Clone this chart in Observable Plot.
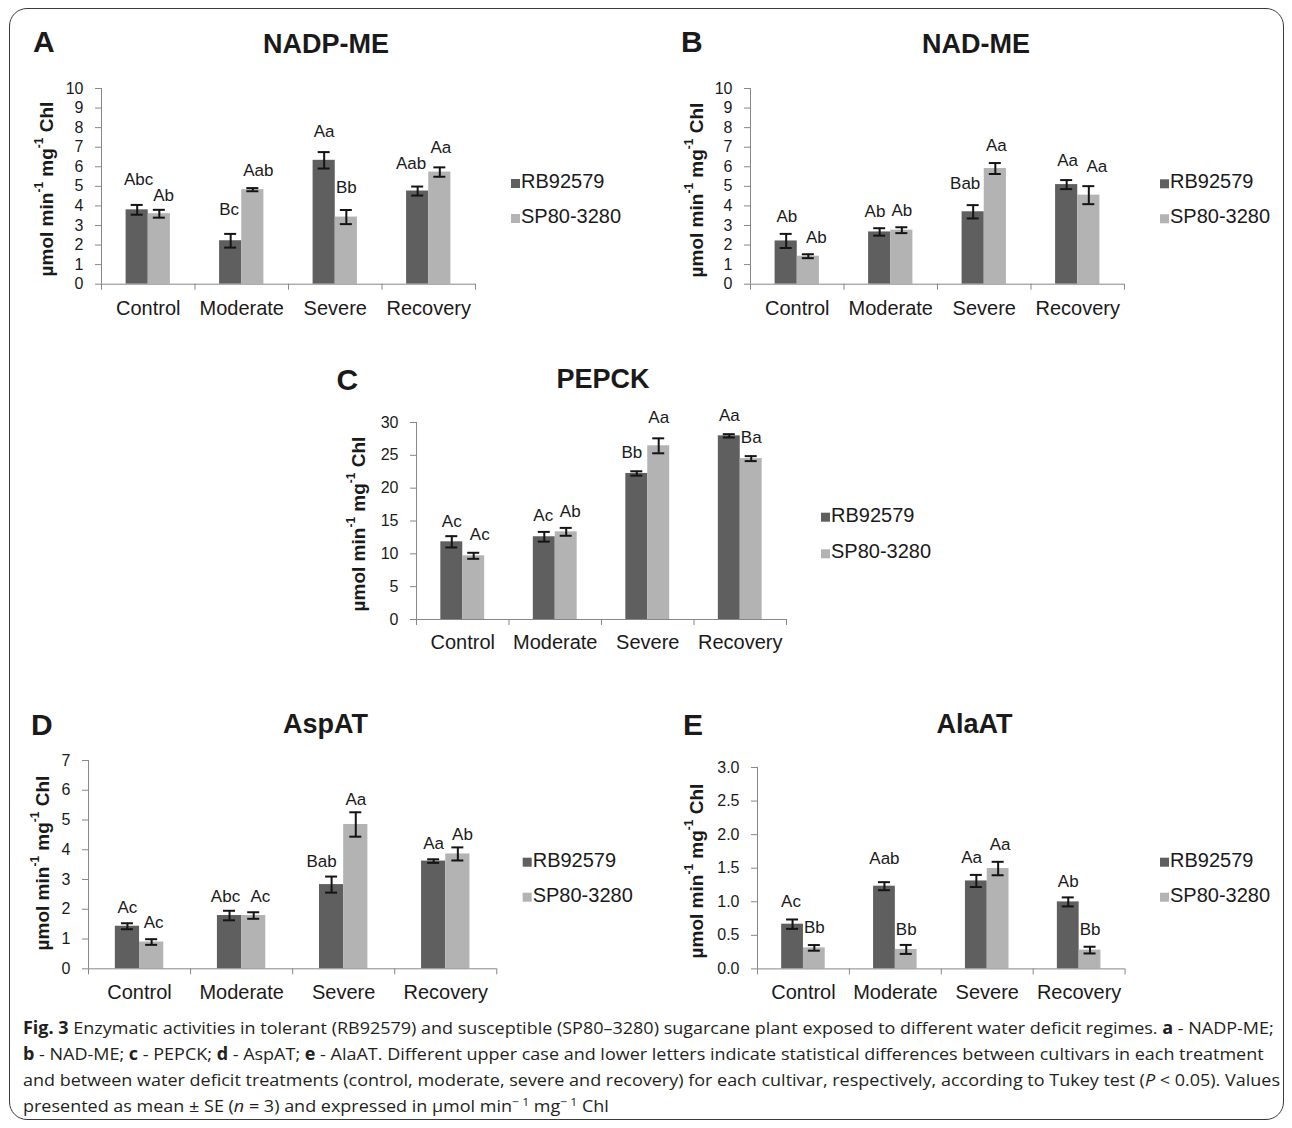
<!DOCTYPE html>
<html><head><meta charset="utf-8">
<script src="https://cdn.jsdelivr.net/npm/d3@7"></script>
<script src="https://cdn.jsdelivr.net/npm/@observablehq/plot@0.6"></script>
<style>
html,body{margin:0;padding:0;background:#fff;}
#page{position:relative;width:1292px;height:1128px;overflow:hidden;font-family:"Liberation Sans",Arial,sans-serif;}
#frame{position:absolute;left:9px;top:8px;width:1275px;height:1112px;border:1.5px solid #3a3a3a;border-radius:18px;box-sizing:border-box;}
#overlay{position:absolute;left:0;top:0;pointer-events:none;}
</style></head>
<body><div id="page"><div id="frame"></div></div>
<script>
// ---------------- DATA ----------------
const categories = ["Control", "Moderate", "Severe", "Recovery"];
const cultivars = ["RB92579", "SP80-3280"];
const panelLetters = ["A", "B", "C", "D", "E"];
const panelTitles = ["NADP-ME", "NAD-ME", "PEPCK", "AspAT", "AlaAT"];

// NADP-ME
const nadpmeRB = [3.80, 2.22, 6.33, 4.76];
const nadpmeRBse = [0.25, 0.35, 0.42, 0.23];
const nadpmeSP = [3.60, 4.83, 3.43, 5.73];
const nadpmeSPse = [0.20, 0.08, 0.36, 0.24];
const nadpmeRBletters = ["Abc", "Bc", "Aa", "Aab"];
const nadpmeSPletters = ["Ab", "Aab", "Bb", "Aa"];
const nadpmeTicks = [0, 1, 2, 3, 4, 5, 6, 7, 8, 9, 10];

// NAD-ME
const nadmeRB = [2.21, 2.67, 3.70, 5.09];
const nadmeRBse = [0.36, 0.19, 0.34, 0.23];
const nadmeSP = [1.43, 2.76, 5.91, 4.55];
const nadmeSPse = [0.10, 0.15, 0.28, 0.46];
const nadmeRBletters = ["Ab", "Ab", "Bab", "Aa"];
const nadmeSPletters = ["Ab", "Ab", "Aa", "Aa"];
const nadmeTicks = [0, 1, 2, 3, 4, 5, 6, 7, 8, 9, 10];

// PEPCK
const pepckRB = [11.83, 12.60, 22.24, 27.97];
const pepckRBse = [0.86, 0.74, 0.33, 0.25];
const pepckSP = [9.70, 13.35, 26.45, 24.50];
const pepckSPse = [0.46, 0.60, 1.14, 0.38];
const pepckRBletters = ["Ac", "Ac", "Bb", "Aa"];
const pepckSPletters = ["Ac", "Ab", "Aa", "Ba"];
const pepckTicks = [0, 5, 10, 15, 20, 25, 30];

// AspAT
const aspatRB = [1.43, 1.79, 2.83, 3.62];
const aspatRBse = [0.10, 0.16, 0.27, 0.06];
const aspatSP = [0.90, 1.79, 4.85, 3.86];
const aspatSPse = [0.095, 0.11, 0.41, 0.22];
const aspatRBletters = ["Ac", "Abc", "Bab", "Aa"];
const aspatSPletters = ["Ac", "Ac", "Aa", "Ab"];
const aspatTicks = [0, 1, 2, 3, 4, 5, 6, 7];

// AlaAT
const alaatRB = [0.666, 1.232, 1.31, 0.998];
const alaatRBse = [0.07, 0.06, 0.09, 0.067];
const alaatSP = [0.313, 0.29, 1.495, 0.28];
const alaatSPse = [0.042, 0.067, 0.10, 0.05];
const alaatRBletters = ["Ac", "Aab", "Aa", "Ab"];
const alaatSPletters = ["Bb", "Bb", "Aa", "Bb"];
const alaatTicks = [0, 0.5, 1.0, 1.5, 2.0, 2.5, 3.0];

const yLabelMain = ["µmol min", " mg", " Chl"];
const yLabelSup = "-1";

// ---------------- STYLE / LAYOUT ----------------
const FONT = '"Liberation Sans", Arial, sans-serif';
const barColors = ["#5f5f5f", "#b3b3b3"];
const AXIS = "#878787";
const ERR = "#141414";
const TXT = "#1a1a1a";

const panels = [
  {rb: nadpmeRB, rbSe: nadpmeRBse, sp: nadpmeSP, spSe: nadpmeSPse, rbLet: nadpmeRBletters, spLet: nadpmeSPletters, ticks: nadpmeTicks, fmt: d3.format("d"),
   lay: {x0: 101, x1: 475, yTop: 88.3, yBot: 284, catPad: 17, letter: [33, 51.7], title: [326, 53.3], legend: [511, 188, 223], ylab: [46, 189],
         rbGap: [20, 19, 15, 18], spGap: [9, 12.6, 17, 14], rbDx: [1.4, -1.5, 0, -6.6], spDx: [4.2, 5.5, 0, 1]}},
  {rb: nadmeRB, rbSe: nadmeRBse, sp: nadmeSP, spSe: nadmeSPse, rbLet: nadmeRBletters, spLet: nadmeSPletters, ticks: nadmeTicks, fmt: d3.format("d"),
   lay: {x0: 750, x1: 1124, yTop: 88.3, yBot: 284, catPad: 17, letter: [681, 51.7], title: [976, 53.3], legend: [1160, 188.3, 223.3], ylab: [696, 190],
         rbGap: [12.3, 11, 15.7, 14.3], spGap: [11.6, 11, 12.3, 14.3], rbDx: [0.7, -4.7, -8, 1], spDx: [8, 0, 1, 8]}},
  {rb: pepckRB, rbSe: pepckRBse, sp: pepckSP, spSe: pepckSPse, rbLet: pepckRBletters, spLet: pepckSPletters, ticks: pepckTicks, fmt: d3.format("d"),
   lay: {x0: 416, x1: 786, yTop: 421.7, yBot: 618.7, catPad: 15, letter: [336.5, 390], title: [603, 388.3], legend: [821, 521.7, 558.3], ylab: [358, 524],
         rbGap: [8.7, 11, 13.3, 13.3], spGap: [12.4, 11, 15.6, 13.3], rbDx: [0, -1, -5, 0], spDx: [6, 4, 0, 0]}},
  {rb: aspatRB, rbSe: aspatRBse, sp: aspatSP, spSe: aspatSPse, rbLet: aspatRBletters, spLet: aspatSPletters, ticks: aspatTicks, fmt: d3.format("d"),
   lay: {x0: 87.6, x1: 495.9, yTop: 760, yBot: 968.3, catPad: 16, letter: [31, 735], title: [325.4, 733.3], legend: [522.7, 866.7, 901.7], ylab: [42, 863],
         rbGap: [10, 8.3, 9.3, 10.7], spGap: [11.6, 10, 7.7, 7.4], rbDx: [0, -4, -10, 0], spDx: [2, 6.6, 0, 4.6]}},
  {rb: alaatRB, rbSe: alaatRBse, sp: alaatSP, spSe: alaatSPse, rbLet: alaatRBletters, spLet: alaatSPletters, ticks: alaatTicks, fmt: d3.format(".1f"),
   lay: {x0: 756.6, x1: 1124.2, yTop: 767.3, yBot: 968.7, catPad: 16, letter: [683, 735], title: [974.6, 733.3], legend: [1160, 866.7, 901.7], ylab: [696, 871],
         rbGap: [12.3, 17.7, 12.3, 10], spGap: [11.7, 10, 12, 11.7], rbDx: [-1.6, 0, -4.7, 0], spDx: [0, 0, 2, 0]}}
];

const page = document.getElementById("page");

function drawPanel(p) {
  const lay = p.lay;
  const ymax = p.ticks[p.ticks.length - 1];
  const L = lay.x0 - 52, R = lay.x1 + 12, T = lay.yTop - 32, B = lay.yBot + 44;
  const kY = (lay.yBot - lay.yTop) / ymax;
  const kX = (lay.x1 - lay.x0) / categories.length;
  const w = 0.237;          // bar width (fraction of a category band)
  const cap = 6 / kX;       // half width of the error-bar caps
  const rows = [];
  categories.forEach((c, i) => {
    [[p.rb, p.rbSe, p.rbLet, lay.rbGap, lay.rbDx], [p.sp, p.spSe, p.spLet, lay.spGap, lay.spDx]].forEach(([v, se, lt, gap, dx], k) => {
      rows.push({cat: c, i, k, cultivar: cultivars[k], v: v[i], se: se[i], letter: lt[i], gap: gap[i], dx: dx[i]});
    });
  });
  const xL = d => d.i + 0.5 - w + d.k * w;
  const xR = d => xL(d) + w;
  const xC = d => xL(d) + w / 2;
  const plot = Plot.plot({
    width: R - L, height: B - T,
    marginLeft: lay.x0 - L, marginRight: R - lay.x1, marginTop: lay.yTop - T, marginBottom: B - lay.yBot,
    x: {domain: [0, categories.length]},
    y: {domain: [0, ymax]},
    color: {domain: cultivars, range: barColors},
    style: {background: "transparent", overflow: "visible", fontFamily: FONT, color: TXT},
    marks: [
      Plot.rect(rows, {x1: xL, x2: xR, y1: 0, y2: "v", fill: "cultivar"}),
      Plot.ruleX([0], {stroke: AXIS}),
      Plot.ruleY([0], {stroke: AXIS}),
      Plot.axisY({ticks: p.ticks, tickSize: 6, tickPadding: 12, tickFormat: p.fmt, fontSize: 16, stroke: AXIS, fill: TXT, label: null}),
      Plot.axisX({ticks: d3.range(categories.length + 1), tickSize: 6, tickFormat: () => "", stroke: AXIS, label: null}),
      Plot.axisX({ticks: categories.map((c, i) => i + 0.5), tickSize: 0, tickPadding: lay.catPad, tickFormat: v => categories[Math.floor(v)], fontSize: 20, fill: TXT, label: null}),
      Plot.ruleX(rows, {x: xC, y1: d => d.v - d.se, y2: d => d.v + d.se, stroke: ERR, strokeWidth: 2}),
      Plot.ruleY(rows, {y: d => d.v + d.se, x1: d => xC(d) - cap, x2: d => xC(d) + cap, stroke: ERR, strokeWidth: 2}),
      Plot.ruleY(rows, {y: d => d.v - d.se, x1: d => xC(d) - cap, x2: d => xC(d) + cap, stroke: ERR, strokeWidth: 2}),
      Plot.text(rows, {x: d => xC(d) + d.dx / kX, y: d => d.v + d.se + d.gap / kY, text: "letter", lineAnchor: "bottom", textAnchor: "middle", fontSize: 17, fill: TXT})
    ]
  });
  plot.style.position = "absolute";
  plot.style.left = L + "px";
  plot.style.top = T + "px";
  page.appendChild(plot);
}
panels.forEach(drawPanel);

// ---------------- OVERLAY TEXT (letters, titles, legends, y labels, caption) ----------------
const svg = d3.select(page).append("svg").attr("id", "overlay").attr("width", 1292).attr("height", 1128)
  .style("font-family", FONT).attr("fill", TXT);

panels.forEach((p, j) => {
  const lay = p.lay;
  svg.append("text").attr("x", lay.letter[0]).attr("y", lay.letter[1]).attr("font-size", 30).attr("font-weight", "bold").text(panelLetters[j]);
  svg.append("text").attr("x", lay.title[0]).attr("y", lay.title[1]).attr("font-size", 27).attr("font-weight", "bold").attr("text-anchor", "middle").text(panelTitles[j]);
  cultivars.forEach((c, k) => {
    const by = lay.legend[1 + k];
    svg.append("rect").attr("x", lay.legend[0]).attr("y", by - 9).attr("width", 9).attr("height", 9).attr("fill", barColors[k]);
    svg.append("text").attr("x", lay.legend[0] + 10).attr("y", by).attr("font-size", 20).text(c);
  });
  const yl = svg.append("text").attr("transform", `translate(${lay.ylab[0]},${lay.ylab[1]}) rotate(-90)`)
    .attr("text-anchor", "middle").attr("dominant-baseline", "central").attr("font-size", 19).attr("font-weight", "bold")
    .style("white-space", "pre");
  yl.append("tspan").text(yLabelMain[0]);
  yl.append("tspan").attr("dy", -7).attr("font-size", 12).text(yLabelSup);
  yl.append("tspan").attr("dy", 7).text(yLabelMain[1]);
  yl.append("tspan").attr("dy", -7).attr("font-size", 12).text(yLabelSup);
  yl.append("tspan").attr("dy", 7).text(yLabelMain[2]);
});

// caption
const captionLines = [
  [["b", "Fig. 3"], ["n", " Enzymatic activities in tolerant (RB92579) and susceptible (SP80–3280) sugarcane plant exposed to different water deficit regimes. "], ["b", "a"], ["n", " - NADP-ME;"]],
  [["b", "b"], ["n", " - NAD-ME; "], ["b", "c"], ["n", " - PEPCK; "], ["b", "d"], ["n", " - AspAT; "], ["b", "e"], ["n", " - AlaAT. Different upper case and lower letters indicate statistical differences between cultivars in each treatment"]],
  [["n", "and between water deficit treatments (control, moderate, severe and recovery) for each cultivar, respectively, according to Tukey test ("], ["i", "P"], ["n", " < 0.05). Values"]],
  [["n", "presented as mean ± SE ("], ["i", "n"], ["n", " = 3) and expressed in µmol min"], ["s", "− 1"], ["n", " mg"], ["s", "− 1"], ["n", " Chl"]]
];
const capBase = [1034, 1060, 1086, 1112];
const capG = svg.append("g").style("font-family", '"Open Sans", "Noto Sans", sans-serif').attr("fill", "#231f20");
const capTexts = captionLines.map((line, li) => {
  const t = capG.append("text").attr("x", 0).attr("y", capBase[li]).attr("font-size", 17).style("white-space", "pre");
  let up = false;
  line.forEach(([kind, str]) => {
    const ts = t.append("tspan").text(str);
    if (kind === "b") ts.attr("font-weight", "bold");
    if (kind === "i") ts.attr("font-style", "italic");
    if (kind === "s") { ts.attr("font-size", 11.5).attr("dy", -6); up = true; }
    else if (up) { ts.attr("dy", 6); up = false; }
  });
  return t;
});
const w1 = capTexts[0].node().getBBox().width;
const f = (1274 - 23) / w1;
capG.attr("transform", `translate(23,0) scale(${f},1)`);
</script></body></html>
